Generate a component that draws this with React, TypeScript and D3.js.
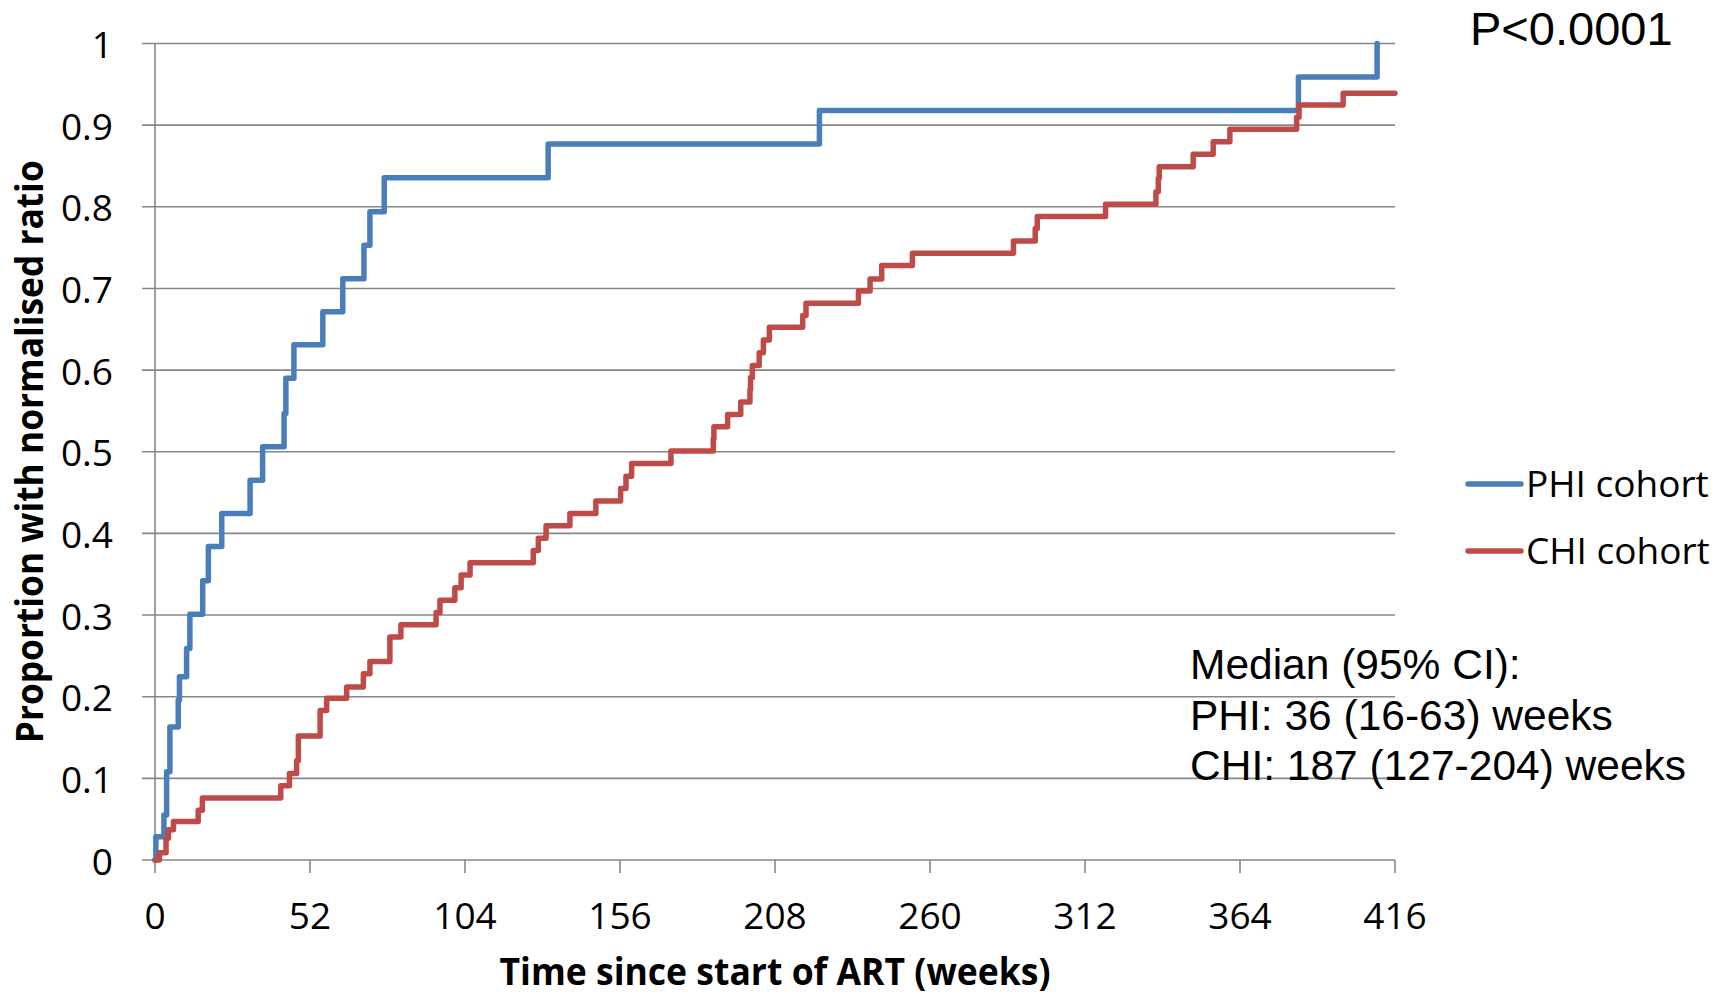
import React from "react";
import * as d3 from "d3";

const phiTimes = [0, 0.3, 3.0, 3.9, 5.0, 7.8, 8.2, 10.6, 11.7, 16.0, 17.9, 22.4, 31.9, 36.1, 43.3, 43.9, 46.6, 56.3, 63.0, 70.1, 72.1, 76.9, 131.9, 222.9, 383.6, 410];
const phiValues = [0, 0.0286, 0.055, 0.108, 0.163, 0.196, 0.2245, 0.259, 0.301, 0.342, 0.384, 0.4245, 0.465, 0.506, 0.547, 0.59, 0.631, 0.6715, 0.712, 0.753, 0.794, 0.8355, 0.877, 0.918, 0.959, 1.0];

const chiTimes = [0, 1.45, 3.7, 4.5, 6.2, 14.5, 15.9, 42.2, 45.1, 47.5, 48.1, 55.4, 57.6, 64.3, 69.9, 72.1, 78.8, 82.5, 94.3, 95.6, 100.6, 102.7, 105.7, 126.9, 128.6, 131.2, 139.2, 147.9, 156.2, 158.0, 159.9, 173.1, 187.3, 187.5, 192.1, 196.5, 199.6, 199.8, 200.4, 202.7, 204.1, 206.1, 217.3, 218.4, 236.0, 239.9, 243.8, 254.1, 288.0, 295.3, 296.0, 318.9, 335.8, 336.6, 336.9, 348.3, 355.0, 360.6, 383.0, 383.8, 398.6, 416];
const chiValues = [0, 0.009, 0.0265, 0.037, 0.047, 0.061, 0.076, 0.091, 0.106, 0.1216, 0.152, 0.183, 0.198, 0.212, 0.228, 0.243, 0.273, 0.288, 0.303, 0.318, 0.3335, 0.349, 0.364, 0.379, 0.394, 0.4095, 0.4245, 0.4397, 0.455, 0.47, 0.4857, 0.5009, 0.516, 0.5305, 0.5457, 0.561, 0.576, 0.591, 0.6057, 0.6213, 0.637, 0.6524, 0.667, 0.682, 0.697, 0.7116, 0.728, 0.743, 0.758, 0.7734, 0.788, 0.803, 0.8185, 0.835, 0.849, 0.8643, 0.8797, 0.895, 0.9096, 0.9247, 0.939, 0.939];

const xTicks = [0, 52, 104, 156, 208, 260, 312, 364, 416];
const yTicks = [0, 0.1, 0.2, 0.3, 0.4, 0.5, 0.6, 0.7, 0.8, 0.9, 1];

const seriesNames = ["PHI cohort", "CHI cohort"];
const seriesColors = ["#4a7ebb", "#be4b48"];

const medianLines = ["Median (95% CI):", "PHI: 36 (16-63) weeks", "CHI: 187 (127-204) weeks"];
const pValueText = "P<0.0001";
const xTitle = "Time since start of ART (weeks)";
const yTitle = "Proportion with normalised ratio";

const W = 1727;
const H = 995;
const left = 155;
const right = 1395;
const top = 43.5;
const bottom = 860;

export default function App() {
  const x = d3.scaleLinear().domain([0, 416]).range([left, right]);
  const y = d3.scaleLinear().domain([0, 1]).range([bottom, top]);
  const line = d3
    .line<[number, number]>()
    .x((d) => x(d[0]))
    .y((d) => y(d[1]))
    .curve(d3.curveStepAfter);

  const phi: [number, number][] = phiTimes.map((t, i) => [t, phiValues[i]]);
  const chi: [number, number][] = chiTimes.map((t, i) => [t, chiValues[i]]);
  const series = [phi, chi];

  const grid = "#878787";
  const tickFont = "'Open Sans', 'Liberation Sans', sans-serif";
  const arial = "'Liberation Sans', Arial, sans-serif";

  return (
    <svg
      width={W}
      height={H}
      style={{ position: "absolute", left: 0, top: 0, display: "block", background: "#fff" }}
    >
      {yTicks.map((t) => (
        <line key={"g" + t} x1={left - 13} x2={right} y1={y(t)} y2={y(t)} stroke={grid} strokeWidth={1.6} />
      ))}
      <line x1={left} x2={left} y1={top} y2={bottom} stroke={grid} strokeWidth={1.6} />
      {xTicks.map((t) => (
        <line key={"xt" + t} x1={x(t)} x2={x(t)} y1={bottom} y2={bottom + 13} stroke={grid} strokeWidth={1.6} />
      ))}
      {yTicks.map((t) => (
        <text
          key={"yl" + t}
          x={113}
          y={y(t)}
          textAnchor="end"
          dominantBaseline="central"
          fontFamily={tickFont}
          fontSize={37}
          fill="#000"
        >
          {d3.format("~g")(t)}
        </text>
      ))}
      {xTicks.map((t) => (
        <text
          key={"xl" + t}
          x={x(t)}
          y={929}
          textAnchor="middle"
          fontFamily={tickFont}
          fontSize={37}
          fill="#000"
        >
          {t}
        </text>
      ))}
      {series.map((s, i) => (
        <path
          key={"s" + i}
          d={line(s) || ""}
          fill="none"
          stroke={seriesColors[i]}
          strokeWidth={5.5}
          strokeLinejoin="round"
          strokeLinecap="round"
        />
      ))}
      <text
        x={775}
        y={985}
        textAnchor="middle"
        fontFamily={tickFont}
        fontWeight="bold"
        fontSize={38}
        textLength={551}
        lengthAdjust="spacingAndGlyphs"
        fill="#000"
      >
        {xTitle}
      </text>
      <text
        transform={`translate(43, ${(top + bottom) / 2}) rotate(-90)`}
        textAnchor="middle"
        fontFamily={tickFont}
        fontWeight="bold"
        fontSize={38}
        textLength={583}
        lengthAdjust="spacingAndGlyphs"
        fill="#000"
      >
        {yTitle}
      </text>
      {seriesNames.map((n, i) => (
        <g key={"lg" + i}>
          <line
            x1={1468}
            x2={1521}
            y1={484 + i * 67}
            y2={484 + i * 67}
            stroke={seriesColors[i]}
            strokeWidth={5.5}
            strokeLinecap="round"
          />
          <text x={1526} y={497 + i * 67} fontFamily={tickFont} fontSize={37} fill="#000">
            {n}
          </text>
        </g>
      ))}
      {medianLines.map((m, i) => (
        <text key={"m" + i} x={1190} y={679 + i * 50.5} fontFamily={arial} fontSize={42.5} fill="#000">
          {m}
        </text>
      ))}
      <text x={1470} y={45} fontFamily={arial} fontSize={47} fill="#000">
        {pValueText}
      </text>
    </svg>
  );
}
